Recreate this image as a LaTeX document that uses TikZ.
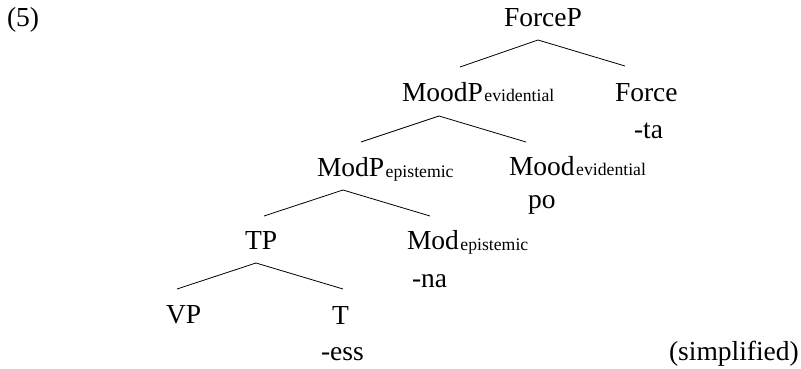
\documentclass[tikz,border=0pt]{standalone}
\usepackage{fontspec}
\setmainfont{Liberation Serif}
\newcommand{\subsc}[1]{\hspace{1.5pt}{\fontsize{17.7}{20}\selectfont\raisebox{-1pt}{#1}}}
\begin{document}
\begin{tikzpicture}[x=1pt,y=-1pt,
  lab/.style={anchor=base west,inner sep=0pt,outer sep=0pt,font=\fontsize{27.5}{33}\selectfont},
  branch/.style={line width=0.8pt,line join=miter}]
\useasboundingbox (0,0) rectangle (801,369);
% labels
\node[lab] (ex) at (7,27) {(5)};
\node[lab] (forcep) at (504,27) {ForceP};
\node[lab] (moodp) at (402,101) {MoodP\subsc{evidential}};
\node[lab] (force) at (615,101) {Force};
\node[lab] (ta) at (634,138) {-ta};
\node[lab] (modp) at (317,176) {ModP\subsc{epistemic}};
\node[lab] (mood) at (509,175) {Mood\subsc{evidential}};
\node[lab] (po) at (528,208) {po};
\node[lab] (tp) at (245,249) {TP};
\node[lab] (mod) at (407,249) {Mod\subsc{epistemic}};
\node[lab] (na) at (412,287) {-na};
\node[lab] (vp) at (166,323) {VP};
\node[lab] (t) at (332,324) {T};
\node[lab] (ess) at (321,360) {-ess};
\node[lab] (simp) at (669,360) {(simplified)};
% branch points
\coordinate (fpA) at (538,40);  \coordinate (fpL) at (460,67);  \coordinate (fpR) at (625,66);
\coordinate (mpA) at (439,116); \coordinate (mpL) at (361,142); \coordinate (mpR) at (526,142);
\coordinate (mdA) at (343,190); \coordinate (mdL) at (264,216); \coordinate (mdR) at (430,216);
\coordinate (tpA) at (256,263); \coordinate (tpL) at (177,289); \coordinate (tpR) at (343,289);
\draw[branch] (fpL) -- (fpA) -- (fpR);
\draw[branch] (mpL) -- (mpA) -- (mpR);
\draw[branch] (mdL) -- (mdA) -- (mdR);
\draw[branch] (tpL) -- (tpA) -- (tpR);
\end{tikzpicture}
\end{document}
